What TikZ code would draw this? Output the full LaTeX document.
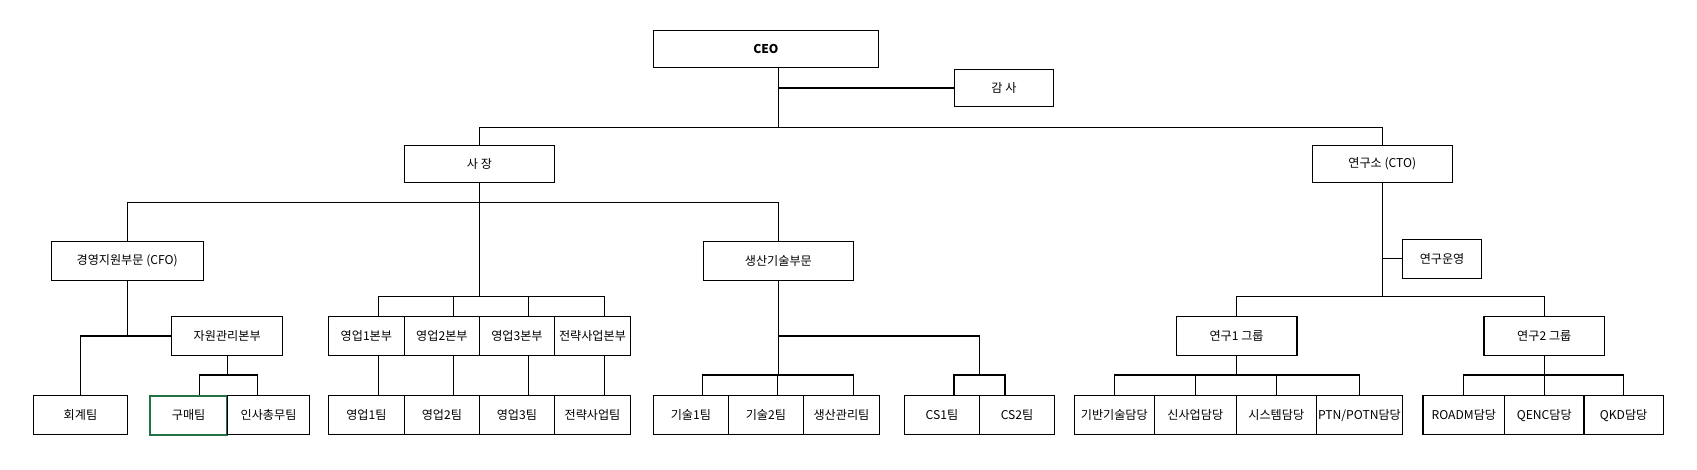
\documentclass[tikz,border=0pt]{standalone}
\usepackage{fontspec}
\setmainfont{Noto Sans CJK KR}
\usetikzlibrary{positioning}
\usetikzlibrary{calc}
\def\u{0.02174cm}

\begin{document}
\begin{tikzpicture}[x=\u, y=-\u, line width=0.65pt,
  org/.style={rectangle, draw, inner sep=0pt, minimum height={36*\u}, font=\fontsize{6.9}{8}\selectfont},
  sel/.style={draw={rgb,255:red,33;green,115;blue,70}, line width=1.1pt}]
  \useasboundingbox (0,0) rectangle (1561,431.5);

  % top
  \node[org, minimum width={207*\u}, minimum height={34*\u}, font=\fontsize{6.9}{8}\selectfont\bfseries] (ceo) at (704.5,45) {CEO};
  \node[org, minimum width={91*\u}, minimum height={34*\u}] (gamsa) at (923.5,81) {감 사};
  \node[org, minimum width={138*\u}, minimum height={34*\u}] (sajang) at (441,151) {사 장};
  \node[org, minimum width={129*\u}, minimum height={34*\u}] (cto) at (1271.5,151) {연구소 (CTO)};

  % divisions
  \node[org, minimum width={140*\u}] (cfo) at (117,240) {경영지원부문 (CFO)};
  \node[org, minimum width={138*\u}] (prod) at (716,240) {생산기술부문};
  \node[org, minimum width={73*\u}] (ops) at (1326.5,238) {연구운영};

  % headquarters
  \node[org, minimum width={102*\u}] (jawon) at (209,309) {자원관리본부};
  \node[org, minimum width={70*\u}] (hq1) at (337,309) {영업1본부};
  \node[org, minimum width={69*\u}] (hq2) at (406.5,309) {영업2본부};
  \node[org, minimum width={69*\u}] (hq3) at (475.5,309) {영업3본부};
  \node[org, minimum width={70*\u}] (hq4) at (545,309) {전략사업본부};
  \node[org, minimum width={111*\u}] (r1) at (1137.5,309) {연구1 그룹};
  \node[org, minimum width={111*\u}] (r2) at (1420.5,309) {연구2 그룹};

  % teams
  \node[org, minimum width={86*\u}] (hoegye) at (74,382) {회계팀};
  \node[org, sel, minimum width={71*\u}] (gumae) at (173.5,382) {구매팀};
  \node[org, minimum width={76*\u}] (insa) at (247,382) {인사총무팀};
  \node[org, minimum width={70*\u}] (t1) at (337,382) {영업1팀};
  \node[org, minimum width={69*\u}] (t2) at (406.5,382) {영업2팀};
  \node[org, minimum width={69*\u}] (t3) at (475.5,382) {영업3팀};
  \node[org, minimum width={70*\u}] (t4) at (545,382) {전략사업팀};
  \node[org, minimum width={69*\u}] (g1) at (635.5,382) {기술1팀};
  \node[org, minimum width={69*\u}] (g2) at (704.5,382) {기술2팀};
  \node[org, minimum width={70*\u}] (g3) at (774,382) {생산관리팀};
  \node[org, minimum width={69*\u}] (cs1) at (866.5,382) {CS1팀};
  \node[org, minimum width={69*\u}] (cs2) at (935.5,382) {CS2팀};
  \node[org, minimum width={74*\u}] (d1) at (1025,382) {기반기술담당};
  \node[org, minimum width={75*\u}] (d2) at (1099.5,382) {신사업담당};
  \node[org, minimum width={74*\u}] (d3) at (1174,382) {시스템담당};
  \node[org, minimum width={79*\u}] (d4) at (1250.5,382) {PTN/POTN담당};
  \node[org, minimum width={75*\u}] (d5) at (1346.5,382) {ROADM담당};
  \node[org, minimum width={73*\u}] (d6) at (1420.5,382) {QENC담당};
  \node[org, minimum width={73*\u}] (d7) at (1493.5,382) {QKD담당};

  % bus points
  \coordinate (topbus) at (716,117);
  \coordinate (sbus) at (441,186);
  \coordinate (hqbus) at (441,273);
  \coordinate (cfobus) at (117,309);
  \coordinate (jbus) at (209,345);
  \coordinate (pbus) at (716,309);
  \coordinate (gbus) at (716,345);
  \coordinate (csbus) at (901,345);
  \coordinate (rbus) at (1272,273);
  \coordinate (r1bus) at (1137.5,345);
  \coordinate (r2bus) at (1420.5,345);

  \draw (ceo.south -| topbus) -- (topbus);
  \draw (gamsa.west) -- (gamsa.west -| topbus);
  \draw (sajang.north) |- (topbus) -| (cto.north);
  \draw (sajang.south) -- (sbus) -| (cfo.north);
  \draw (sbus) -| (prod.north);
  \draw (sbus) -- (hqbus);
  \draw (cfo.south) -- (cfobus) -- (jawon.west);
  \draw (cfobus) -| (hoegye.north);
  \draw (jawon.south) -- (jbus);
  \draw ($(gumae.north)+(10,0)$) |- (jbus) -| ($(insa.north)+(-10,0)$);
  \foreach \i in {1,...,4} {
    \draw (hqbus) -| ($(hq\i.north)+(11,0)$);
    \draw ($(hq\i.south)+(11,0)$) -- ($(t\i.north)+(11,0)$);
  }
  \draw (prod.south) -- (pbus) -- (gbus);
  \draw (pbus) -| (csbus);
  \foreach \i in {1,2,3} \draw (gbus) -| ($(g\i.north)+(11,0)$);
  \draw ($(cs1.north)+(11,0)$) |- (csbus) -| ($(cs2.north)+(-11,0)$);
  \draw (cto.south -| rbus) -- (rbus);
  \draw (ops.west -| rbus) -- (ops.west);
  \draw (r1.north) |- (rbus) -| (r2.north);
  \draw (r1.south) -- (r1bus);
  \foreach \i in {1,...,4} \draw (r1bus) -| (d\i.north);
  \draw (r2.south) -- (r2bus);
  \foreach \i in {5,6,7} \draw (r2bus) -| (d\i.north);
\end{tikzpicture}
\end{document}
